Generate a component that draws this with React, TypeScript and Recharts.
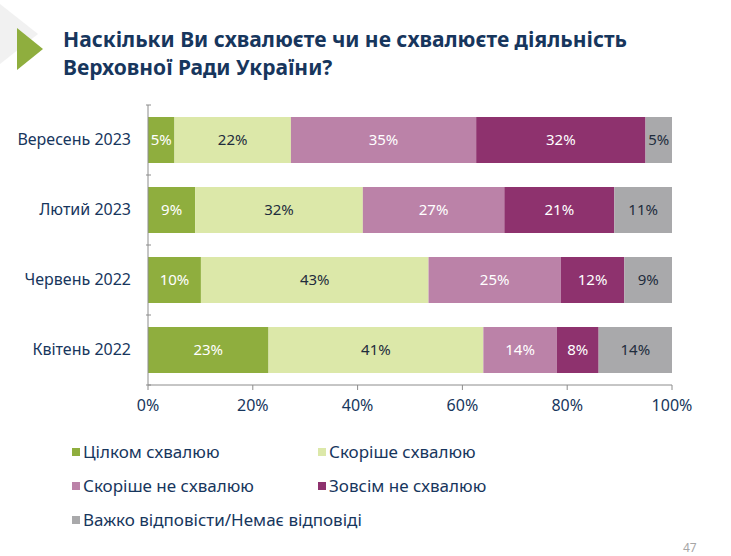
import React from "react";
import { BarChart, Bar, XAxis, YAxis, LabelList } from "recharts";

const periods = ["Вересень 2023", "Лютий 2023", "Червень 2022", "Квітень 2022"];
const fullyApprove = [5, 9, 10, 23];
const ratherApprove = [22, 32, 43, 41];
const ratherDisapprove = [35, 27, 25, 14];
const fullyDisapprove = [32, 21, 12, 8];
const hardToSay = [5, 11, 9, 14];
const xTicks = [0, 20, 40, 60, 80, 100];

const series = [
  { key: "s1", name: "Цілком схвалюю", values: fullyApprove, color: "#8fae3e", text: "#ffffff" },
  { key: "s2", name: "Скоріше схвалюю", values: ratherApprove, color: "#dce8a9", text: "#1f2d3d" },
  { key: "s3", name: "Скоріше не схвалюю", values: ratherDisapprove, color: "#bb82a8", text: "#ffffff" },
  { key: "s4", name: "Зовсім не схвалюю", values: fullyDisapprove, color: "#8e326e", text: "#ffffff" },
  { key: "s5", name: "Важко відповісти/Немає відповіді", values: hardToSay, color: "#a9a9ab", text: "#1f2d3d" },
];

// rounded shares don't always add to 100, the source bars still fill the row
const data = periods.map((p, i) => {
  const row: Record<string, string | number> = { period: p };
  series.forEach((s) => {
    row[s.key] = s.values[i];
  });
  return row;
});

const FONT = "'Noto Sans', sans-serif";
const NAVY = "#17365d";
const AXIS = "#8c8c8c";
const BAND = 70;

function YTick(props: any) {
  const { x, y, payload, index } = props;
  const axisX = x + 11;
  return (
    <g>
      <line x1={axisX - 5} x2={axisX} y1={y - BAND / 2} y2={y - BAND / 2} stroke={AXIS} />
      {index === periods.length - 1 && (
        <line x1={axisX - 5} x2={axisX} y1={y + BAND / 2} y2={y + BAND / 2} stroke={AXIS} />
      )}
      <text x={x - 9} y={y} dy={5} textAnchor="end" fontSize={16} fill={NAVY} fontFamily={FONT}>
        {payload.value}
      </text>
    </g>
  );
}

export default function App() {
  return (
    <div style={{ position: "absolute", left: 0, top: 0, width: 731, height: 556, background: "#fff", fontFamily: FONT }}>
      <svg width={731} height={556} style={{ position: "absolute", left: 0, top: 0 }}>
        <polygon points="0,4 38,34 0,64" fill="#f1f1f1" />
        <polygon points="17,28 43,49 17,70" fill="#8fae3e" />
      </svg>
      <div style={{ position: "absolute", left: 63, top: 25, fontSize: 21, lineHeight: "28px", fontWeight: "bold", color: NAVY }}>
        <div>Наскільки Ви схвалюєте чи не схвалюєте діяльність</div>
        <div>Верховної Ради України?</div>
      </div>
      <div style={{ position: "absolute", left: 0, top: 0 }}>
        <BarChart
          width={731}
          height={556}
          data={data}
          layout="vertical"
          stackOffset="expand"
          margin={{ top: 105, right: 59, bottom: 141, left: 0 }}
          barCategoryGap={12}
        >
          <XAxis
            type="number"
            domain={[0, 1]}
            ticks={xTicks.map((t) => t / 100)}
            tickFormatter={(v) => `${Math.round(v * 100)}%`}
            axisLine={{ stroke: AXIS }}
            tickLine={{ stroke: AXIS }}
            tickSize={5}
            tickMargin={10}
            height={30}
            tick={{ fontSize: 16, fill: NAVY, fontFamily: FONT }}
            interval={0}
          />
          <YAxis
            type="category"
            dataKey="period"
            width={148}
            axisLine={{ stroke: AXIS }}
            tickLine={false}
            tick={<YTick />}
          />
          {series.map((s) => (
            <Bar key={s.key} dataKey={s.key} name={s.name} stackId="a" fill={s.color} isAnimationActive={false}>
              <LabelList
                dataKey={s.key}
                position="center"
                formatter={(v: any) => `${v}%`}
                style={{ fontSize: 15, fill: s.text, fontFamily: FONT }}
              />
            </Bar>
          ))}
        </BarChart>
      </div>
      {series.map((s, i) => (
        <div
          key={s.key}
          style={{
            position: "absolute",
            left: i % 2 === 0 ? 72 : 318,
            top: 440 + Math.floor(i / 2) * 34,
            fontSize: 17,
            color: NAVY,
            display: "flex",
            alignItems: "center",
            whiteSpace: "nowrap",
          }}
        >
          <span style={{ display: "inline-block", width: 8, height: 8, background: s.color, marginRight: 3 }} />
          {s.name}
        </div>
      ))}
      <div style={{ position: "absolute", left: 683, top: 539, fontSize: 12, color: "#a6a6a6" }}>47</div>
    </div>
  );
}
